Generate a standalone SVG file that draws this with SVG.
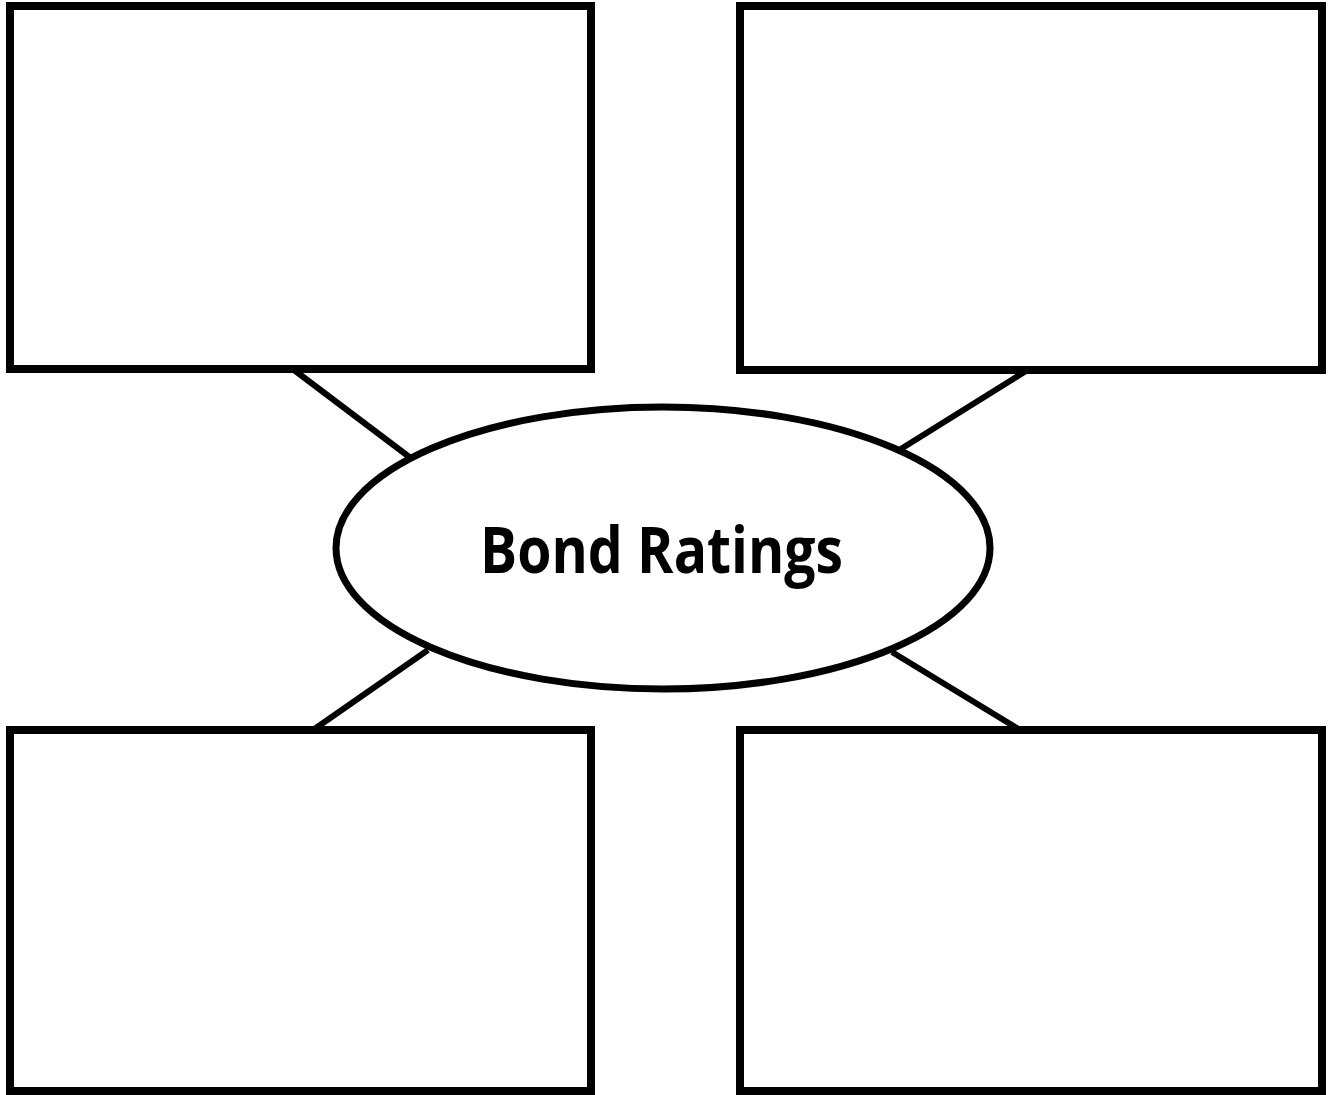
<svg xmlns="http://www.w3.org/2000/svg" width="1332" height="1095" viewBox="0 0 1332 1095">
<style>
.box{fill:#fff;stroke:#000;stroke-width:8}
.conn line{stroke:#000;stroke-width:6}
.oval{fill:#fff;stroke:#000;stroke-width:7}
.label{font-family:"Open Sans","DejaVu Sans",sans-serif;font-weight:bold;font-size:64px;fill:#000}
</style>
<rect width="1332" height="1095" fill="#fff"/>
<g id="connectors" class="conn">
<line x1="294" y1="370" x2="412" y2="459"/>
<line x1="1026" y1="371" x2="896" y2="452"/>
<line x1="428" y1="650" x2="313" y2="730"/>
<line x1="892" y1="652" x2="1020" y2="730"/>
</g>
<g id="box-tl"><rect class="box" x="10" y="6" width="581" height="363"/></g>
<g id="box-tr"><rect class="box" x="740" y="6" width="582" height="364"/></g>
<g id="box-bl"><rect class="box" x="10" y="730" width="581" height="361"/></g>
<g id="box-br"><rect class="box" x="740" y="730" width="582" height="361"/></g>
<g id="center">
<ellipse class="oval" cx="663" cy="548" rx="327" ry="141"/>
<text class="label" x="661.5" y="573" text-anchor="middle" textLength="363" lengthAdjust="spacingAndGlyphs">Bond Ratings</text>
</g>
</svg>
